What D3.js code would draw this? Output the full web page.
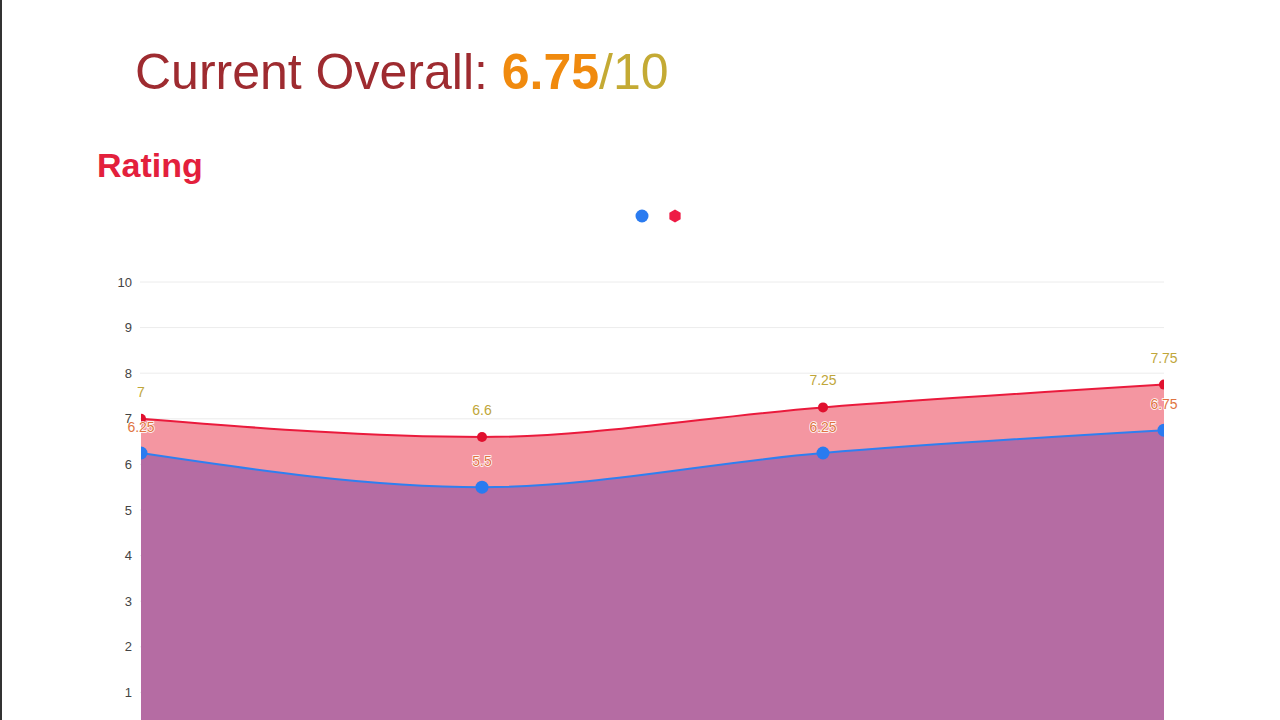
<!DOCTYPE html>
<html>
<head>
<meta charset="utf-8">
<script src="https://cdn.jsdelivr.net/npm/d3@7"></script>
<style>
body { margin: 0; background: #fff; overflow: hidden; }
svg { display: block; }
</style>
</head>
<body>
<svg id="chart" width="1280" height="720"></svg>
<script>
// data
var categories = ["1", "2", "3", "4"];
var blueValues = [6.25, 5.5, 6.25, 6.75];
var redValues = [7, 6.6, 7.25, 7.75];
var yTicks = [1, 2, 3, 4, 5, 6, 7, 8, 9, 10];

var svg = d3.select("#chart");

// left border of the frame
svg.append("rect").attr("x", 0).attr("y", 0).attr("width", 2).attr("height", 720).style("fill", "#333");

// title
var title = svg.append("text")
	.attr("x", 135)
	.attr("y", 89)
	.style("font-family", "Liberation Sans, Arial, sans-serif")
	.style("font-size", "50px");
title.append("tspan").style("fill", "#9e2b30").text("Current Overall: ");
title.append("tspan").style("fill", "#f08a0e").style("font-weight", "bold").text("6.75");
title.append("tspan").style("fill", "#c4aa34").text("/10");

svg.append("text")
	.attr("x", 97)
	.attr("y", 177)
	.style("font-family", "Liberation Sans, Arial, sans-serif")
	.style("font-size", "34px")
	.style("font-weight", "bold")
	.style("fill", "#e3203c")
	.text("Rating");

// legend
svg.append("circle").attr("cx", 642).attr("cy", 216).attr("r", 6.5).style("fill", "#2a7bf0");
var hex = d3.range(6).map(function (i) {
	var a = Math.PI / 3 * i + Math.PI / 6;
	return [675 + 6.5 * Math.cos(a), 216 + 6.5 * Math.sin(a)];
});
svg.append("polygon").attr("points", hex.join(" ")).style("fill", "#ee1b45");

var x = d3.scalePoint().domain(categories).range([141, 1164]);
var y = d3.scaleLinear().domain([0, 10]).range([738, 282]);

// grid
svg.append("g").selectAll("line")
	.data(yTicks)
	.join("line")
	.attr("x1", 140).attr("x2", 1164)
	.attr("y1", function (d) { return y(d); })
	.attr("y2", function (d) { return y(d); })
	.style("stroke", "#ececec")
	.style("stroke-width", 1);

var yAxis = svg.append("g")
	.attr("transform", "translate(140,0)")
	.call(d3.axisLeft(y).tickValues(yTicks).tickSize(0).tickPadding(8));
yAxis.select(".domain").remove();
yAxis.selectAll("text")
	.style("font-family", "Liberation Sans, Arial, sans-serif")
	.style("font-size", "13px")
	.style("fill", "#444");

svg.append("clipPath").attr("id", "plotclip")
	.append("rect").attr("x", 141).attr("y", 200).attr("width", 1023).attr("height", 540);

var plot = svg.append("g").attr("clip-path", "url(#plotclip)");

var area = d3.area()
	.x(function (d, i) { return x(categories[i]); })
	.y0(y(0))
	.y1(function (d) { return y(d); })
	.curve(d3.curveMonotoneX);
var line = d3.line()
	.x(function (d, i) { return x(categories[i]); })
	.y(function (d) { return y(d); })
	.curve(d3.curveMonotoneX);

plot.append("path").datum(redValues).attr("d", area).style("fill", "#f496a1");
plot.append("path").datum(blueValues).attr("d", area).style("fill", "#b56ca3");
plot.append("path").datum(redValues).attr("d", line)
	.style("fill", "none").style("stroke", "#ea1a3c").style("stroke-width", 2);
plot.append("path").datum(blueValues).attr("d", line)
	.style("fill", "none").style("stroke", "#2f7ff0").style("stroke-width", 2);

plot.selectAll(".redDot").data(redValues).join("circle")
	.attr("cx", function (d, i) { return x(categories[i]); })
	.attr("cy", function (d) { return y(d); })
	.attr("r", 5)
	.style("fill", "#e0102e");
plot.selectAll(".blueDot").data(blueValues).join("circle")
	.attr("cx", function (d, i) { return x(categories[i]); })
	.attr("cy", function (d) { return y(d); })
	.attr("r", 6.5)
	.style("fill", "#2a7bf0");

function labels(values, color, dy) {
	svg.append("g").selectAll("text")
		.data(values)
		.join("text")
		.attr("x", function (d, i) { return x(categories[i]); })
		.attr("y", function (d) { return y(d) + dy; })
		.style("text-anchor", "middle")
		.style("font-family", "Liberation Sans, Arial, sans-serif")
		.style("font-size", "14px")
		.style("fill", color)
		.style("stroke", "#fff")
		.style("stroke-width", 1.5)
		.style("paint-order", "stroke")
		.text(function (d) { return d; });
}
labels(redValues, "#c0a63a", -22);
labels(blueValues, "#e07442", -21);
</script>
</body>
</html>
